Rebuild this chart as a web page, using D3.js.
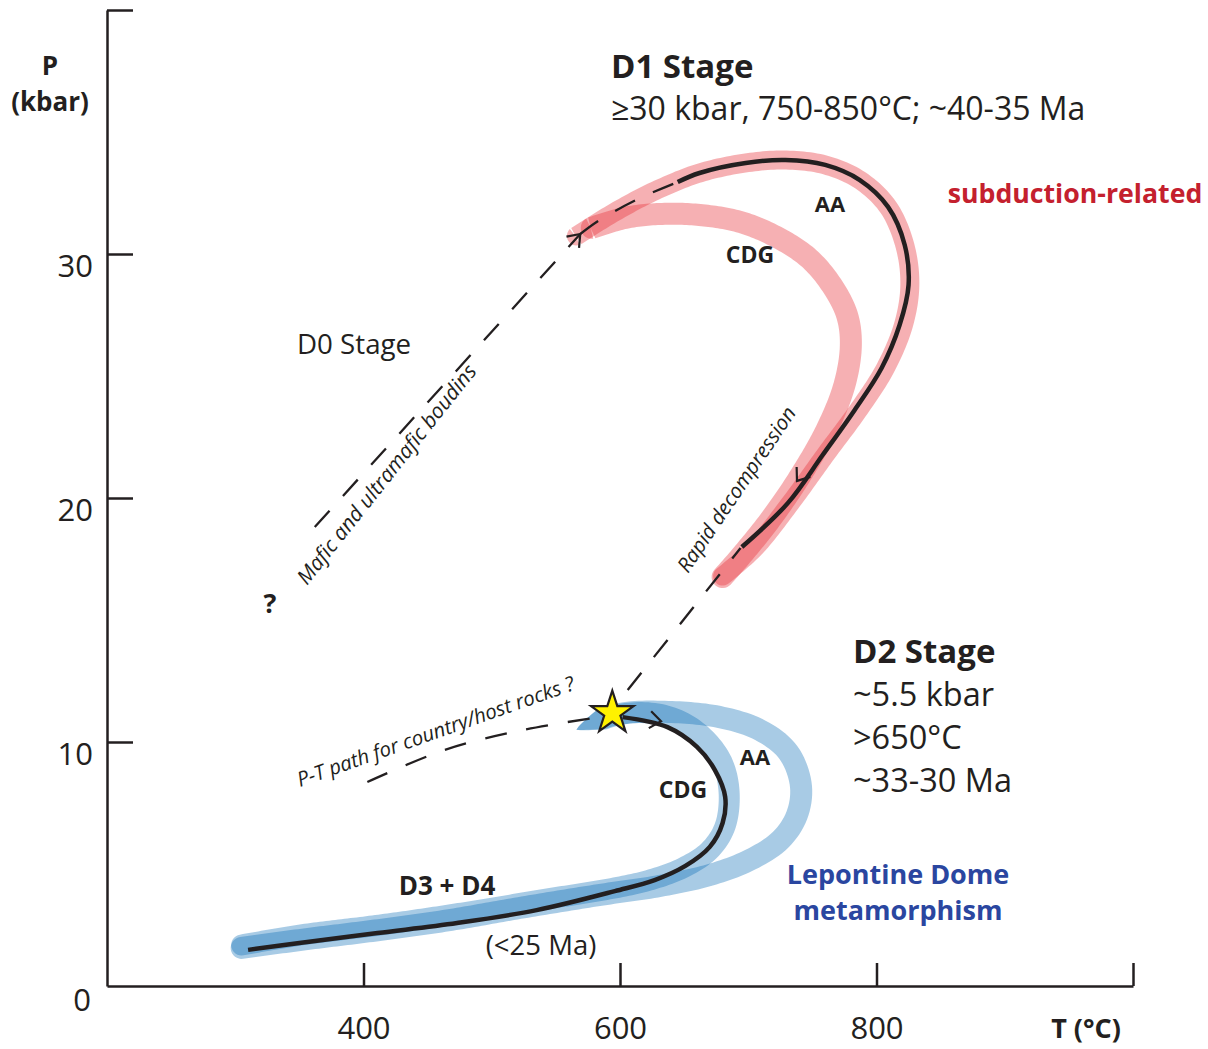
<!DOCTYPE html>
<html>
<head>
<meta charset="utf-8">
<script src="https://d3js.org/d3.v7.min.js"></script>
<style>
  body { margin: 0; background: #fff; }
  svg { display: block; font-family: "Open Sans", sans-serif; }
  text { fill: #231f20; }
</style>
</head>
<body>
<script>
// axis ticks
const xTicks = [400, 600, 800, 1000];
const yTicks = [10, 20, 30, 40];

// P-T paths, [T (°C), P (kbar)]
const redCDG = [[578, 31.07], [604, 31.48], [631, 31.64], [662, 31.6], [694, 31.31], [722, 30.7], [747, 29.84],
  [765, 28.73], [777, 27.5], [780, 26.27], [775, 24.63], [761, 22.79], [740, 20.86], [717, 19.1], [695, 17.66], [680, 16.76]];
const redAA = [[566, 30.74], [596, 31.72], [627, 32.58], [662, 33.32], [698, 33.73], [729, 33.85], [760, 33.65],
  [787, 33.03], [809, 31.93], [822, 30.37], [826, 28.73], [821, 27.09], [807, 25.33], [786, 23.61], [760, 21.76],
  [733, 19.8], [705, 17.95], [680, 16.8]];
const blackD1 = [[645, 32.95], [662, 33.32], [698, 33.73], [729, 33.85], [760, 33.65], [787, 33.03], [809, 31.93],
  [822, 30.37], [825, 28.73], [818, 27.09], [804, 25.33], [783, 23.61], [758, 21.76], [731, 19.8], [695, 17.99]];

const blueCDG = [[566, 10.5], [592, 11.05], [620, 11.2], [643, 10.95], [663, 10.3], [679, 9.24], [685, 8.0],
  [682, 6.56], [670, 5.57], [649, 4.84], [623, 4.34], [600, 4.06], [538, 3.52], [467, 2.91], [413, 2.5], [351, 2.09], [305, 1.68]];
const blueAA = [[566, 10.5], [600, 11.15], [639, 11.23], [678, 11.02], [709, 10.49], [731, 9.59], [741, 8.24],
  [738, 7.01], [725, 5.98], [701, 5.16], [670, 4.55], [631, 4.1], [584, 3.73], [522, 3.2], [467, 2.7], [413, 2.3],
  [351, 1.89], [305, 1.56]];
const blackD2 = [[602, 11.02], [637, 10.61], [660, 9.8], [674, 8.85], [682, 7.75], [680, 6.68], [670, 5.7],
  [651, 4.92], [627, 4.34], [596, 3.89], [535, 3.11], [473, 2.58], [411, 2.17], [350, 1.76], [310, 1.48]];

// dashed paths
const dashD0 = [[362, 18.81], [569, 30.82]];
const dashD0cont = [[569, 30.82], [584, 31.39], [616, 32.3], [645, 32.95]];
const dashDecomp = [[606, 12.13], [694, 17.95]];
const dashCountry = [[403, 8.36], [463, 9.67], [524, 10.49], [584, 11.02]];

const starPT = [594, 11.27];

const W = 1208, H = 1049;
const x = d3.scaleLinear().domain([200, 1000]).range([107, 1133]);
const y = d3.scaleLinear().domain([0, 40]).range([986, 10]);

const svg = d3.select("body").append("svg").attr("width", W).attr("height", H);

const line = d3.line().x(d => x(d[0])).y(d => y(d[1])).curve(d3.curveCatmullRom.alpha(0.5));
const straight = d3.line().x(d => x(d[0])).y(d => y(d[1]));

// band drawn as a filled ribbon (round ends, optional tapered start)
function band(data, color, op, w, taper) {
  const tmp = svg.append("path").attr("d", line(data)).attr("fill", "none");
  const node = tmp.node(), len = node.getTotalLength();
  const n = 240, left = [], right = [];
  let first, last;
  for (let i = 0; i <= n; i++) {
    const s = len * i / n;
    const p = node.getPointAtLength(s);
    const a = node.getPointAtLength(Math.max(0, s - 0.5)), b = node.getPointAtLength(Math.min(len, s + 0.5));
    let tx = b.x - a.x, ty = b.y - a.y;
    const tl = Math.hypot(tx, ty) || 1; tx /= tl; ty /= tl;
    const hw = w / 2 * (taper ? Math.min(1, Math.pow(s / taper, 0.8)) : 1);
    left.push([p.x - ty * hw, p.y + tx * hw]);
    right.push([p.x + ty * hw, p.y - tx * hw]);
    if (i === 0) first = { p, tx, ty, hw };
    if (i === n) last = { p, tx, ty, hw };
  }
  tmp.remove();
  const pts = left.slice();
  for (let k = 1; k < 16; k++) {
    const th = Math.PI * k / 16, c = Math.cos(th), s = Math.sin(th);
    pts.push([last.p.x + last.hw * (c * -last.ty + s * last.tx), last.p.y + last.hw * (c * last.tx + s * last.ty)]);
  }
  pts.push(...right.reverse());
  if (!taper) {
    for (let k = 1; k < 16; k++) {
      const th = Math.PI * k / 16, c = Math.cos(th), s = Math.sin(th);
      pts.push([first.p.x - first.hw * (-c * -first.ty + s * first.tx), first.p.y - first.hw * (-c * first.tx + s * first.ty)]);
    }
  }
  svg.append("path").attr("d", "M" + pts.map(p => p.join(",")).join("L") + "Z")
    .attr("fill", color).attr("fill-opacity", op);
}
band(redCDG, "rgb(231,47,55)", 0.38, 22, 0);
band(redAA, "rgb(231,47,55)", 0.38, 19, 0);
band(blueCDG, "rgb(3,104,180)", 0.345, 21, 28);
band(blueAA, "rgb(3,104,180)", 0.345, 22, 28);

// dashed lines
function dashed(data, gen) {
  svg.append("path").attr("d", gen(data)).attr("fill", "none")
    .attr("stroke", "#231f20").attr("stroke-width", 2.3).attr("stroke-dasharray", "22,20");
}
dashed(dashD0, straight);
dashed(dashD0cont, line);
dashed(dashDecomp, straight);
dashed(dashCountry, line);

// black paths
[blackD1, blackD2].forEach(d => {
  svg.append("path").attr("d", line(d)).attr("fill", "none")
    .attr("stroke", "#231f20").attr("stroke-width", 4.5).attr("stroke-linecap", "butt");
});

// open arrow heads
function chevron(from, to) {
  const x1 = x(to[0]), y1 = y(to[1]);
  const a = Math.atan2(y1 - y(from[1]), x1 - x(from[0]));
  const L = 14, s = 0.65;
  const p = d3.path();
  p.moveTo(x1 - L * Math.cos(a - s), y1 - L * Math.sin(a - s));
  p.lineTo(x1, y1);
  p.lineTo(x1 - L * Math.cos(a + s), y1 - L * Math.sin(a + s));
  svg.append("path").attr("d", p.toString()).attr("fill", "none")
    .attr("stroke", "#231f20").attr("stroke-width", 2.2);
}
chevron(dashD0[0], dashD0[1]);
chevron([760, 22.3], [738, 20.7]);
chevron([605, 11.05], [632, 10.85]);

// star
svg.append("path").attr("d", d3.symbol(d3.symbolStar, 560)())
  .attr("transform", `translate(${x(starPT[0])},${y(starPT[1]) + 2})`)
  .attr("fill", "#fff200").attr("stroke", "#231f20").attr("stroke-width", 2.2).attr("stroke-linejoin", "miter");

// axes
const xAxis = svg.append("g").attr("transform", `translate(0,${y(0)})`)
  .call(d3.axisBottom(x).tickValues(xTicks).tickSize(-23).tickSizeOuter(0)
    .tickFormat(d => d === 1000 ? "" : d));
const yAxis = svg.append("g").attr("transform", `translate(${x(200)},0)`)
  .call(d3.axisLeft(y).tickValues(yTicks).tickSize(-26).tickSizeOuter(0)
    .tickFormat(d => d === 40 ? "" : d));
[xAxis, yAxis].forEach(g => {
  g.selectAll("path, line").attr("stroke", "#231f20").attr("stroke-width", 2.5);
  g.selectAll("text").attr("fill", "#231f20").style("font-family", "Open Sans, sans-serif").style("font-size", "31px");
});
xAxis.selectAll("text").attr("y", 31).attr("dy", "0.71em");
yAxis.selectAll("text").attr("x", -14).attr("dy", "0.32em").attr("transform", "translate(0,13)");
svg.append("text").attr("x", 82).attr("y", y(0) + 25).attr("text-anchor", "middle")
  .style("font-size", "31px").text("0");

// labels
function label(txt, px, py, size, opts = {}) {
  const t = svg.append("text").attr("x", px).attr("y", py).style("font-size", size + "px")
    .attr("text-anchor", opts.anchor || "start").text(txt);
  if (opts.bold) t.style("font-weight", "bold");
  if (opts.italic) t.style("font-style", "italic");
  if (opts.color) t.style("fill", opts.color);
  if (opts.rotate) t.attr("transform", `rotate(${opts.rotate},${px},${py})`);
  return t;
}
label("P", 50, 75, 26, { bold: true, anchor: "middle" });
label("(kbar)", 50, 111, 26, { bold: true, anchor: "middle" });
label("T (°C)", 1086, 1038, 27, { bold: true, anchor: "middle" });

label("D1 Stage", 611, 78, 33, { bold: true });
label("≥30 kbar, 750-850°C; ~40-35 Ma", 611, 120, 32);
label("subduction-related", 1075, 203, 26.7, { bold: true, anchor: "middle", color: "#c4202e" });
label("AA", 830, 212, 22, { bold: true, anchor: "middle" });
label("CDG", 750, 263, 23, { bold: true, anchor: "middle" });
label("D0 Stage", 297, 354, 27.7);
label("?", 270, 613, 27, { bold: true, anchor: "middle" });
label("Mafic and ultramafic boudins", 307, 586, 21, { italic: true, rotate: -51.5 });
label("Rapid decompression", 688, 574, 20.5, { italic: true, rotate: -56 });
label("P-T path for country/host rocks ?", 300, 787, 20.4, { italic: true, rotate: -19.5 });

label("D2 Stage", 853, 663, 33, { bold: true });
label("~5.5 kbar", 853, 706, 32.5);
label(">650°C", 853, 749, 32.5);
label("~33-30 Ma", 853, 792, 32.5);
label("AA", 755, 765, 22, { bold: true, anchor: "middle" });
label("CDG", 683, 798, 23, { bold: true, anchor: "middle" });
label("D3 + D4", 447, 895, 26, { bold: true, anchor: "middle" });
label("(<25 Ma)", 541, 955, 27.5, { anchor: "middle" });
label("Lepontine Dome", 898, 884, 27, { bold: true, anchor: "middle", color: "#2a46a0" });
label("metamorphism", 898, 920, 27, { bold: true, anchor: "middle", color: "#2a46a0" });
</script>
</body>
</html>
